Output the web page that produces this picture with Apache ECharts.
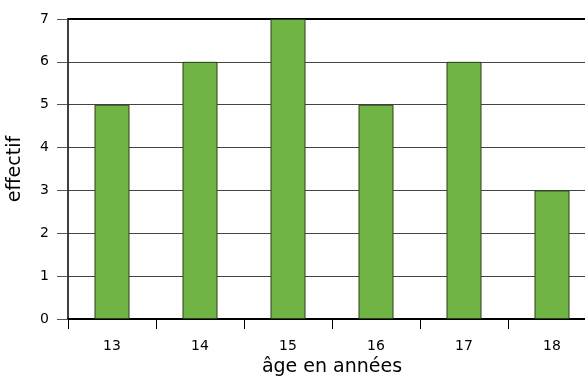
<!DOCTYPE html>
<html><head><meta charset="utf-8">
<script src="https://cdn.jsdelivr.net/npm/echarts@6/dist/echarts.min.js"></script>
<style>html,body{margin:0;padding:0;background:#fff}#c{width:585px;height:377px}</style>
</head><body><div id="c"></div>
<script>
const categories = ['13','14','15','16','17','18'];
const values = [5, 6, 7, 5, 6, 3];
const chart = echarts.init(document.getElementById('c'), null, {renderer:'canvas'});
const font = 'DejaVu Sans';
chart.setOption({
  backgroundColor: '#fff',
  animation: false,
  grid: { left: 68, top: 19, width: 528, height: 300, containLabel: false, outerBoundsMode: 'none' },
  xAxis: [{
    type: 'category', data: categories, position: 'bottom',
    name: 'âge en années', nameLocation: 'middle', nameGap: 36,
    nameTextStyle: { fontFamily: font, fontSize: 19, color: '#000' },
    axisLine: { lineStyle: { color: '#000', width: 2 } },
    axisTick: { show: true, length: 10, lineStyle: { color: '#000', width: 1 } },
    axisLabel: { fontFamily: font, fontSize: 14, color: '#000', margin: 20 },
    splitLine: { show: false }
  }, {
    type: 'category', data: categories, position: 'top',
    axisLine: { lineStyle: { color: '#000', width: 2 } },
    axisTick: { show: false }, axisLabel: { show: false }, splitLine: { show: false }
  }],
  yAxis: {
    type: 'value', min: 0, max: 7, interval: 1,
    name: 'effectif', nameLocation: 'middle', nameGap: 43, nameRotate: 90,
    nameTextStyle: { fontFamily: font, fontSize: 19, color: '#000' },
    axisLine: { show: true, lineStyle: { color: '#000', width: 1.5 } },
    axisTick: { show: true, length: 11, lineStyle: { color: '#555', width: 1 } },
    axisLabel: { fontFamily: font, fontSize: 14, color: '#000', margin: 19 },
    splitLine: { show: true, lineStyle: { color: '#444', width: 1 } }
  },
  series: [{
    type: 'bar', data: values, xAxisIndex: 0,
    barWidth: 35,
    itemStyle: { color: '#70b446', borderColor: '#2b3f1c', borderWidth: 1 }
  }]
});
</script></body></html>
